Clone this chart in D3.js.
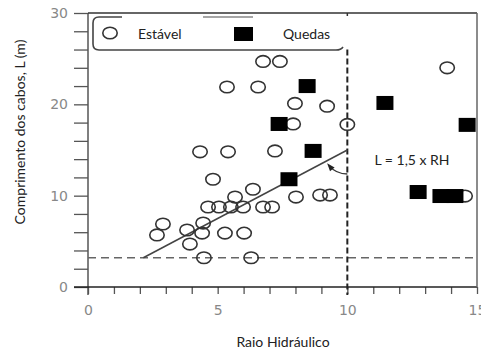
<!DOCTYPE html>
<html><head><meta charset="utf-8">
<script src="https://cdn.jsdelivr.net/npm/d3@7"></script>
<style>body{margin:0;background:#fff;} svg{display:block;}</style>
</head><body>
<script>
// Cabos estáveis (círculos abertos): raio hidráulico e comprimento L (m)
const estavelRH = [6.75, 7.40, 5.36, 6.56, 7.98, 9.22, 7.91, 10.0, 13.85,
  4.32, 5.40, 7.21, 4.82, 6.36, 5.67, 4.63, 5.05, 5.51, 5.98, 6.75, 7.10,
  8.02, 8.95, 9.33, 2.89, 2.66, 3.82, 4.44, 4.40, 3.93, 5.28, 6.02, 4.47, 6.29, 14.54];
const estavelL = [24.7, 24.7, 21.9, 21.9, 20.1, 19.8, 17.85, 17.8, 24.0,
  14.8, 14.8, 14.9, 11.8, 10.7, 9.85, 8.76, 8.76, 8.76, 8.76, 8.76, 8.76,
  9.85, 10.07, 10.07, 6.9, 5.7, 6.24, 7.0, 5.9, 4.7, 5.9, 5.9, 3.2, 3.2, 9.96];

// Cabos com quedas (quadrados cheios)
const quedasRH = [8.45, 11.45, 7.37, 14.62, 8.68, 7.75, 12.73, 13.61, 14.15];
const quedasL = [22.0, 20.15, 17.85, 17.75, 14.9, 11.8, 10.4, 9.96, 9.96];

const xTickLabels = [0, 5, 10, 15];
const yTickLabels = [0, 10, 20, 30];

// Linhas de referência
const limiteL = 3.2;     // comprimento mínimo (tracejada horizontal)
const limiteRH = 10;     // raio hidráulico limite (tracejada vertical)
const topoRH = 26;       // altura onde começa a tracejada vertical
const coef = 1.5;        // L = 1,5 x RH
const inicioRH = limiteL / coef;

const W = 481, H = 353;
const svg = d3.select("body").append("svg").attr("width", W).attr("height", H);

const x = d3.scaleLinear().domain([0, 15]).range([88, 477]);
const y = d3.scaleLinear().domain([0, 30]).range([287, 13]);

const labelFont = "DejaVu Sans, sans-serif";
const textFont = "Lato, sans-serif";

// Eixo X: marcas a cada unidade, rótulos em 0, 5, 10, 15
const gx = svg.append("g").attr("transform", `translate(0,${y(0)})`)
  .call(d3.axisBottom(x).tickValues(d3.range(0, 16)).tickSize(7).tickPadding(11)
    .tickFormat(d => xTickLabels.includes(d) ? d : ""));
gx.select(".domain").remove();
gx.selectAll(".tick line").attr("stroke", "#555").attr("stroke-width", 1.3);
gx.selectAll(".tick text").attr("fill", "#888").style("font-family", labelFont).style("font-size", "14px");

// Eixo Y: marcas a cada 2 m, rótulos em 0, 10, 20, 30
const gy = svg.append("g").attr("transform", `translate(${x(0)},0)`)
  .call(d3.axisLeft(y).tickValues(d3.range(0, 31, 2)).tickSize(14).tickPadding(6)
    .tickFormat(d => yTickLabels.includes(d) ? d : ""));
gy.select(".domain").remove();
gy.selectAll(".tick line").attr("stroke", "#555").attr("stroke-width", 1.3);
gy.selectAll(".tick text").attr("fill", "#888").style("font-family", labelFont).style("font-size", "14px");

// Linhas dos eixos e moldura
const frame = svg.append("g").attr("stroke", "#333").attr("stroke-width", 1.5).attr("fill", "none");
frame.append("line").attr("x1", x(0)).attr("x2", x(0)).attr("y1", y(30)).attr("y2", y(0) + 8).attr("stroke", "#555");
frame.append("line").attr("x1", x(0) - 14).attr("x2", x(15)).attr("y1", y(0)).attr("y2", y(0)).attr("stroke", "#222");
frame.append("line").attr("x1", x(0)).attr("x2", x(15)).attr("y1", y(30)).attr("y2", y(30));
frame.append("line").attr("x1", x(15)).attr("x2", x(15)).attr("y1", y(30)).attr("y2", y(0)).attr("stroke", "#666");
frame.append("line").attr("x1", x(limiteRH)).attr("x2", x(limiteRH)).attr("y1", y(30)).attr("y2", y(30) + 3);

// Tracejada horizontal (L mínimo)
svg.append("line")
  .attr("x1", x(0)).attr("x2", x(15)).attr("y1", y(limiteL)).attr("y2", y(limiteL))
  .attr("stroke", "#666").attr("stroke-width", 1.3).attr("stroke-dasharray", "8,5");

// Tracejada vertical (RH = 10)
svg.append("line")
  .attr("x1", x(limiteRH)).attr("x2", x(limiteRH)).attr("y1", y(topoRH)).attr("y2", y(0) + 8)
  .attr("stroke", "#222").attr("stroke-width", 2).attr("stroke-dasharray", "6,3");

// Reta L = 1,5 x RH
svg.append("line")
  .attr("x1", x(inicioRH)).attr("y1", y(coef * inicioRH))
  .attr("x2", x(limiteRH)).attr("y2", y(coef * limiteRH))
  .attr("stroke", "#444").attr("stroke-width", 1.5);

// Arco indicando a reta, entre a tracejada vertical e a reta
{
  const cx = x(limiteRH), cy = y(coef * limiteRH);
  const dx = x(0) - x(1), dy = y(0) - y(coef);
  const r = 24;
  const a0 = Math.PI / 2;                       // direção vertical para baixo
  const a1 = Math.atan2(dy, dx) - 0.22;         // um pouco abaixo da reta
  const p0 = [cx + r * Math.cos(a0), cy + r * Math.sin(a0)];
  const p1 = [cx + r * Math.cos(a1), cy + r * Math.sin(a1)];
  svg.append("path")
    .attr("d", `M${p0[0]},${p0[1]} A${r},${r} 0 0 1 ${p1[0]},${p1[1]}`)
    .attr("fill", "none").attr("stroke", "#333").attr("stroke-width", 1.3);
  // ponta da seta, na tangente ao fim do arco
  const t = a1 + Math.PI / 2;
  const tip = [p1[0] + 3 * Math.cos(t), p1[1] + 3 * Math.sin(t)];
  const back = [tip[0] - 8 * Math.cos(t), tip[1] - 8 * Math.sin(t)];
  const nx = -Math.sin(t) * 3, ny = Math.cos(t) * 3;
  svg.append("path")
    .attr("d", `M${tip[0]},${tip[1]} L${back[0] + nx},${back[1] + ny} L${back[0] - nx},${back[1] - ny}Z`)
    .attr("fill", "#222");
}

svg.append("text").attr("x", 412).attr("y", 165).attr("text-anchor", "middle")
  .style("font-family", textFont).style("font-size", "14px").attr("fill", "#222")
  .text("L = 1,5 x RH");

// Pontos estáveis
const estavel = estavelRH.map((v, i) => ({ rh: v, l: estavelL[i] }));
svg.append("g").selectAll("ellipse").data(estavel).join("ellipse")
  .attr("cx", d => x(d.rh)).attr("cy", d => y(d.l))
  .attr("rx", 7.2).attr("ry", 5.8)
  .attr("fill", "none").attr("stroke", "#333").attr("stroke-width", 1.6);

// Pontos com quedas
const quedas = quedasRH.map((v, i) => ({ rh: v, l: quedasL[i] }));
const sw = 17, sh = 14;
svg.append("g").selectAll("rect").data(quedas).join("rect")
  .attr("x", d => x(d.rh) - sw / 2).attr("y", d => y(d.l) - sh / 2)
  .attr("width", sw).attr("height", sh).attr("fill", "#000");

// Legenda
const leg = svg.append("g");
leg.append("rect").attr("x", 93).attr("y", 16).attr("width", 249).attr("height", 35)
  .attr("rx", 6).attr("fill", "#fff").attr("stroke", "none");
leg.append("path")
  .attr("d", "M122,17 L99,17 Q93,17 93,23 L93,44 Q93,50 99,50 L336,50 Q341,50 343,47")
  .attr("fill", "none").attr("stroke", "#444").attr("stroke-width", 1.6);
leg.append("line").attr("x1", 203).attr("x2", 253).attr("y1", 17).attr("y2", 17)
  .attr("stroke", "#888").attr("stroke-width", 1.4);
leg.append("ellipse").attr("cx", 110).attr("cy", 33).attr("rx", 7.2).attr("ry", 5.8)
  .attr("fill", "none").attr("stroke", "#333").attr("stroke-width", 1.6);
leg.append("text").attr("x", 138).attr("y", 39)
  .style("font-family", textFont).style("font-size", "14px").attr("fill", "#222").text("Estável");
leg.append("rect").attr("x", 234).attr("y", 27).attr("width", sw + 2).attr("height", sh)
  .attr("fill", "#000");
leg.append("text").attr("x", 283).attr("y", 39)
  .style("font-family", textFont).style("font-size", "14px").attr("fill", "#222").text("Quedas");

// Títulos dos eixos
svg.append("text").attr("x", 283).attr("y", 347).attr("text-anchor", "middle")
  .style("font-family", textFont).style("font-size", "14px").attr("fill", "#222")
  .text("Raio Hidráulico");
svg.append("text").attr("transform", "translate(25,132) rotate(-90)").attr("text-anchor", "middle")
  .style("font-family", textFont).style("font-size", "14px").attr("fill", "#222")
  .text("Comprimento dos cabos, L (m)");
</script>
</body></html>
